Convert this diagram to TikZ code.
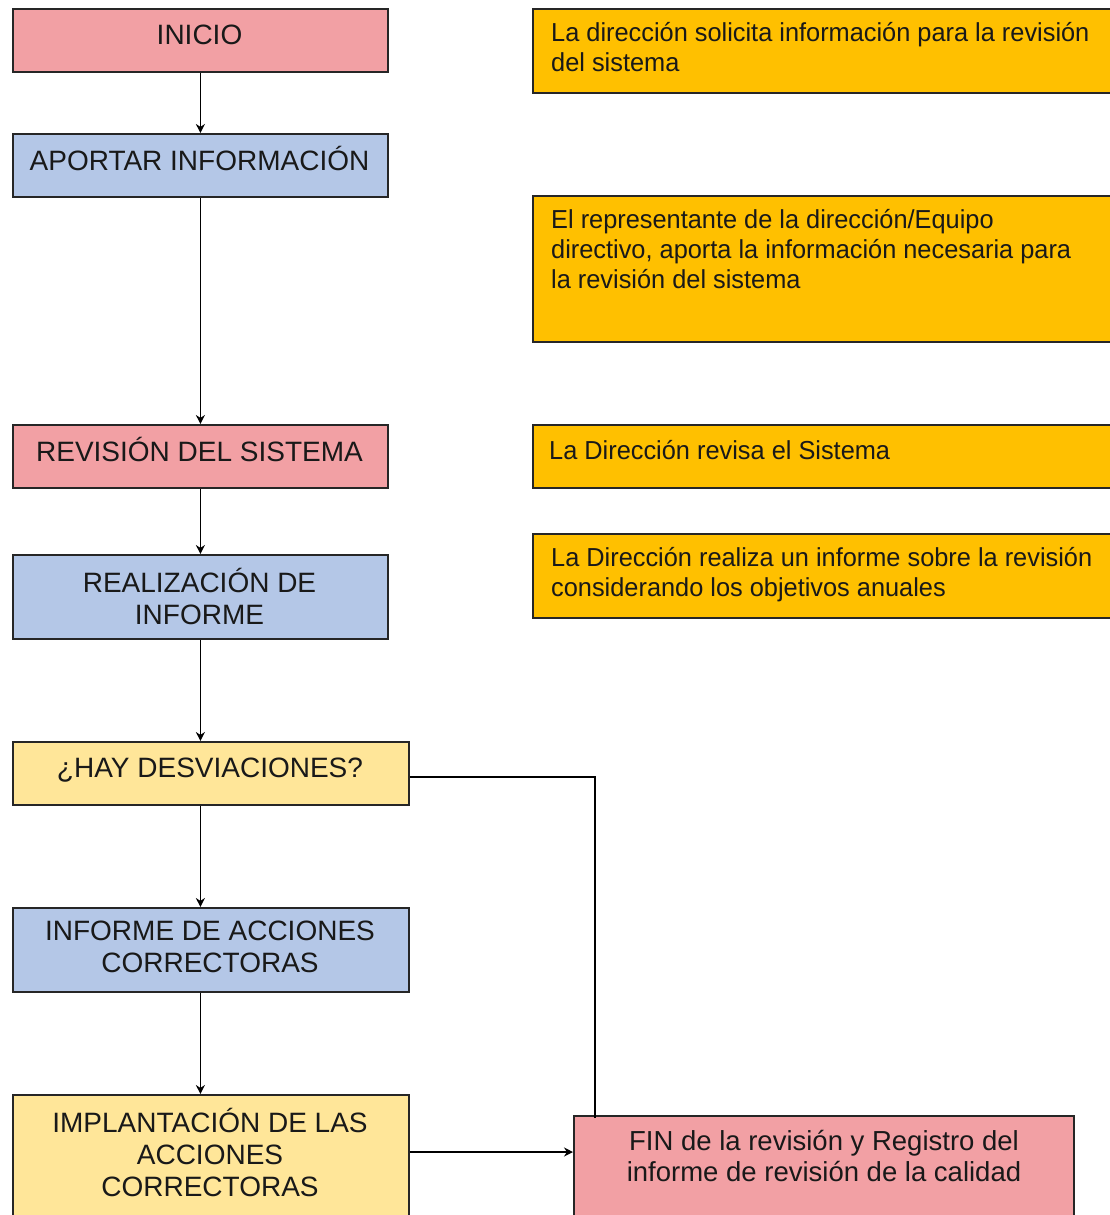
\documentclass[tikz,border=0pt]{standalone}
\usepackage{fontspec}
\setmainfont{Liberation Sans}
\newfontfamily\rfont{Liberation Sans}[FakeStretch=0.975]
\usetikzlibrary{arrows.meta}
\definecolor{pinkbox}{HTML}{F2A0A4}
\definecolor{bluebox}{HTML}{B4C7E7}
\definecolor{yelbox}{HTML}{FFE699}
\definecolor{orabox}{HTML}{FFC000}
\definecolor{edgecol}{HTML}{262626}
\begin{document}
\begin{tikzpicture}[x=1pt,y=-1pt,
  box/.style={draw=edgecol, line width=1.8pt, inner sep=0pt, anchor=north west},
  ltext/.style={inner sep=0pt, anchor=north, align=center, text=black!90, font=\fontsize{28}{32}\selectfont, execute at begin node=\strut},
  ftext/.style={inner sep=0pt, anchor=north, align=center, text=black!90, font=\fontsize{27.5}{31}\selectfont, execute at begin node=\strut},
  rtext/.style={inner sep=0pt, anchor=north west, align=left, text=black!90, font=\rfont\fontsize{26}{30}\selectfont, execute at begin node=\strut},
  conn/.style={line width=1.8pt, draw=black},
  arr/.style={conn, -{Stealth[length=9pt,width=9pt]}}]
\useasboundingbox (0,0) rectangle (1110,1215);
\clip (0,0) rectangle (1110,1215);
\fill[white] (0,0) rectangle (1110,1215);

% left boxes
\node[box, fill=pinkbox, minimum width=375pt, minimum height=63pt] (inicio) at (12,8) {};
\node[box, fill=bluebox, minimum width=375pt, minimum height=63pt] (aportar) at (12,133) {};
\node[box, fill=pinkbox, minimum width=375pt, minimum height=63pt] (revision) at (12,424) {};
\node[box, fill=bluebox, minimum width=375pt, minimum height=84pt] (realiz) at (12,554) {};
\node[box, fill=yelbox, minimum width=396pt, minimum height=63pt] (hay) at (12,741) {};
\node[box, fill=bluebox, minimum width=396pt, minimum height=84pt] (infacc) at (12,907) {};
\node[box, fill=yelbox, minimum width=396pt, minimum height=170pt] (implant) at (12,1094) {};
\node[box, fill=pinkbox, minimum width=500pt, minimum height=150pt] (fin) at (573,1115) {};

% right boxes
\node[box, fill=orabox, minimum width=600pt, minimum height=84pt] (r1) at (532,8) {};
\node[box, fill=orabox, minimum width=600pt, minimum height=146pt] (r2) at (532,195) {};
\node[box, fill=orabox, minimum width=600pt, minimum height=63pt] (r3) at (532,424) {};
\node[box, fill=orabox, minimum width=600pt, minimum height=84pt] (r4) at (532,533) {};

% texts
\node[ltext] (inicio-t) at (199.5,21.6) {INICIO};
\node[ltext] (aportar-t) at (199.5,145.6) {APORTAR INFORMACIÓN};
\node[ltext] (revision-t) at (199.5,436.6) {REVISIÓN DEL SISTEMA};
\node[ltext] (realiz-t) at (199.5,567.6) {REALIZACIÓN DE\\INFORME};
\node[ltext] (hay-t) at (210,754.6) {¿HAY DESVIACIONES?};
\node[ltext] (infacc-t) at (210,920.6) {INFORME DE ACCIONES\\CORRECTORAS};
\node[ltext] (implant-t) at (210,1107.6) {IMPLANTACIÓN DE LAS\\ACCIONES\\CORRECTORAS};
\node[ftext] (fin-t) at (824,1130.3) {FIN de la revisión y Registro del\\informe de revisión de la calidad};

\node[rtext] (r1-t) at (551,22) {La dirección solicita información para la revisión\\del sistema};
\node[rtext] (r2-t) at (551,209) {El representante de la dirección/Equipo\\directivo, aporta la información necesaria para\\la revisión del sistema};
\node[rtext] (r3-t) at (549,438) {La Dirección revisa el Sistema};
\node[rtext] (r4-t) at (551,547) {La Dirección realiza un informe sobre la revisión\\considerando los objetivos anuales};

% connectors
\draw[arr] (inicio.south) -- (aportar.north);
\draw[arr] (aportar.south) -- (revision.north);
\draw[arr] (revision.south) -- (realiz.north);
\draw[arr] (realiz.south) -- (realiz.south |- hay.north);
\draw[arr] (realiz.south |- hay.south) -- (realiz.south |- infacc.north);
\draw[arr] (realiz.south |- infacc.south) -- (realiz.south |- implant.north);
\coordinate (finjoin) at ([xshift=22pt,yshift=-3pt]fin.north west);
\draw[conn] ([yshift=-3.5pt]hay.east) -| (finjoin);
\draw[arr, line width=2.6pt] ([yshift=-58pt]implant.north east) -- ([yshift=-37pt]fin.north west);
\end{tikzpicture}
\end{document}
